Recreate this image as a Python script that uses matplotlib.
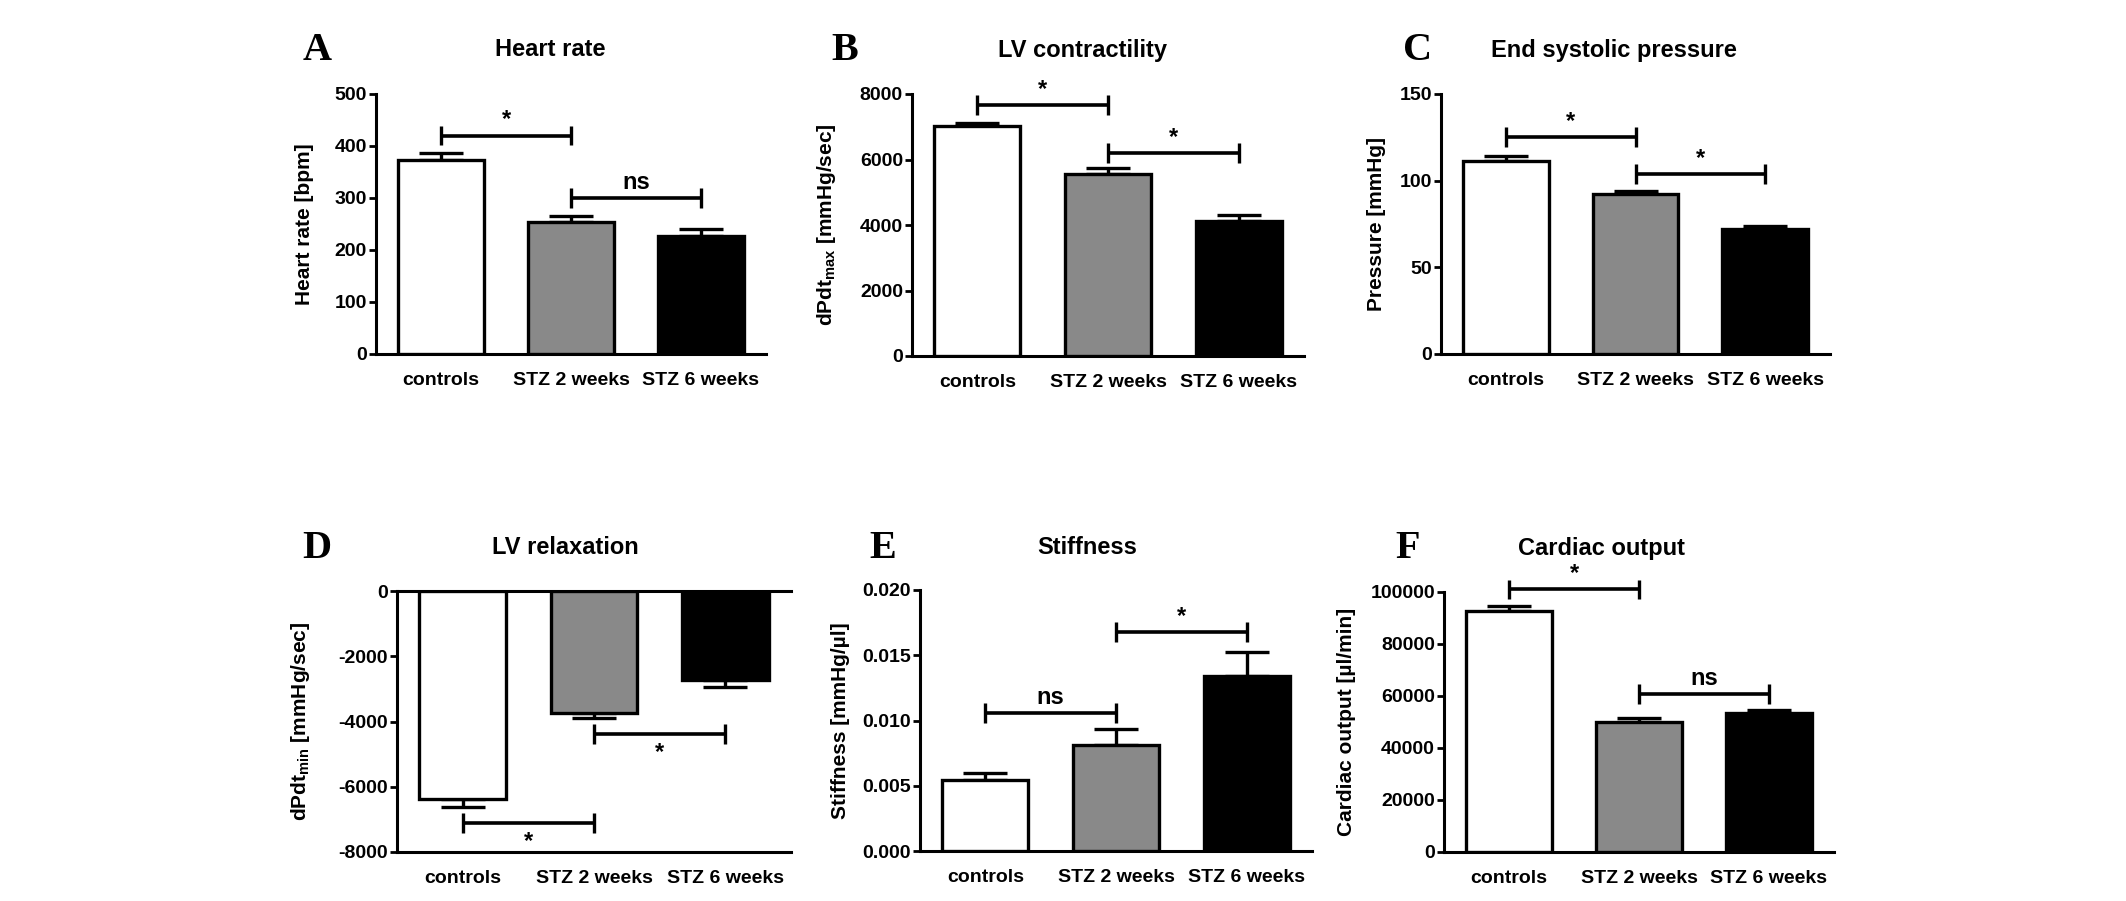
import matplotlib
matplotlib.use("Agg")
import matplotlib.pyplot as plt
from matplotlib.ticker import FixedLocator, FixedFormatter

plt.rcParams["mathtext.default"] = "regular"
plt.rcParams["axes.unicode_minus"] = False

SANS = ["Liberation Sans", "DejaVu Sans"]
SERIF = ["Liberation Serif", "DejaVu Serif"]

groups = ["controls", "STZ 2 weeks", "STZ 6 weeks"]
bar_colors = ["white", "#898989", "black"]

# values (mean and one-sided error)
hr_mean = [373, 254, 227]
hr_err = [13, 12, 13]
dpmax_mean = [7030, 5560, 4120]
dpmax_err = [90, 180, 190]
esp_mean = [111.3, 92.1, 72.3]
esp_err = [2.9, 1.9, 1.7]
dpmin_mean = [-6380, -3740, -2730]
dpmin_err = [240, 150, 210]
stiff_mean = [0.00544, 0.00812, 0.01341]
stiff_err = [0.00054, 0.00123, 0.00184]
co_mean = [92700, 50000, 53500]
co_err = [1900, 1500, 1100]

# significance brackets: (from group, to group, level, text)
hr_sig = [(0, 1, 420, "*"), (1, 2, 300, "ns")]
dpmax_sig = [(0, 1, 7660, "*"), (1, 2, 6200, "*")]
esp_sig = [(0, 1, 125, "*"), (1, 2, 104, "*")]
dpmin_sig = [(0, 1, -7110, "*"), (1, 2, -4380, "*")]
stiff_sig = [(0, 1, 0.0106, "ns"), (1, 2, 0.0168, "*")]
co_sig = [(0, 1, 101000, "*"), (1, 2, 60700, "ns")]

hr_ticks = [0, 100, 200, 300, 400, 500]
dpmax_ticks = [0, 2000, 4000, 6000, 8000]
esp_ticks = [0, 50, 100, 150]
dpmin_ticks = [0, -2000, -4000, -6000, -8000]
stiff_ticks = [0.0, 0.005, 0.010, 0.015, 0.020]
stiff_labels = ["0.000", "0.005", "0.010", "0.015", "0.020"]
co_ticks = [0, 20000, 40000, 60000, 80000, 100000]

W, H = 2126, 901
fig = plt.figure(figsize=(W / 100, H / 100), dpi=100)


def px_axes(l, r, t, b):
    return fig.add_axes([l / W, 1 - b / H, (r - l) / W, (b - t) / H])


panels = [
    dict(box=(376, 766, 94, 354), mean=hr_mean, err=hr_err, sig=hr_sig,
         ticks=hr_ticks, labels=None, ylim=(0, 500), title="Heart rate",
         ylabel="Heart rate [bpm]", letter="A", lx=317, tx=550, ty=50, ylx=304),
    dict(box=(912, 1304, 94, 356), mean=dpmax_mean, err=dpmax_err, sig=dpmax_sig,
         ticks=dpmax_ticks, labels=None, ylim=(0, 8000), title="LV contractility",
         ylabel="dPdt$_{max}$ [mmHg/sec]", letter="B", lx=845, tx=1082, ty=50, ylx=826),
    dict(box=(1441, 1830, 94, 354), mean=esp_mean, err=esp_err, sig=esp_sig,
         ticks=esp_ticks, labels=None, ylim=(0, 150), title="End systolic pressure",
         ylabel="Pressure [mmHg]", letter="C", lx=1418, tx=1614, ty=50, ylx=1377),
    dict(box=(397, 791, 591, 852), mean=dpmin_mean, err=dpmin_err, sig=dpmin_sig,
         ticks=dpmin_ticks, labels=None, ylim=(-8000, 0), title="LV relaxation",
         ylabel="dPdt$_{min}$ [mmHg/sec]", letter="D", lx=317, tx=565, ty=548, ylx=300),
    dict(box=(920, 1312, 590, 851), mean=stiff_mean, err=stiff_err, sig=stiff_sig,
         ticks=stiff_ticks, labels=stiff_labels, ylim=(0, 0.02), title="Stiffness",
         ylabel="Stiffness [mmHg/µl]", letter="E", lx=883, tx=1087, ty=548, ylx=840),
    dict(box=(1444, 1834, 592, 852), mean=co_mean, err=co_err, sig=co_sig,
         ticks=co_ticks, labels=None, ylim=(0, 100000), title="Cardiac output",
         ylabel="Cardiac output [µl/min]", letter="F", lx=1408, tx=1601, ty=548, ylx=1346),
]

x = [0, 1, 2]
for p in panels:
    ax = px_axes(*p["box"])
    lo, hi = p["ylim"]
    neg = hi <= 0
    ax.bar(x, p["mean"], width=0.66, color=bar_colors, edgecolor="black",
           linewidth=2.4, zorder=3)
    if neg:
        yerr = [p["err"], [0, 0, 0]]
    else:
        yerr = [[0, 0, 0], p["err"]]
    ax.errorbar(x, p["mean"], yerr=yerr, fmt="none", ecolor="black",
                elinewidth=2.4, capsize=16, capthick=2.4, zorder=2)

    ax.set_xlim(-0.5, 2.5)
    ax.set_ylim(lo, hi)
    for s in ["left", "bottom", "top", "right"]:
        ax.spines[s].set_linewidth(2.2)
    ax.spines["right"].set_visible(False)
    ax.spines["top"].set_visible(neg)

    ax.yaxis.set_major_locator(FixedLocator(p["ticks"]))
    if p["labels"] is not None:
        ax.yaxis.set_major_formatter(FixedFormatter(p["labels"]))
    ax.tick_params(axis="y", length=5, width=2, pad=1.5)
    ax.tick_params(axis="x", length=0, pad=13)
    ax.set_xticks(x)
    ax.set_xticklabels(groups, family=SANS, fontweight="bold", fontsize=14)
    for t in ax.get_yticklabels():
        t.set_family(SANS)
        t.set_fontweight("bold")
        t.set_fontsize(14)

    ax.set_ylabel(p["ylabel"], family=SANS, fontweight="bold", fontsize=15)
    ax.yaxis.label.set_va("center")
    l, r = p["box"][0], p["box"][1]
    ax.yaxis.set_label_coords((p["ylx"] - l) / (r - l), 0.5)

    # significance brackets
    d = 0.038 * (hi - lo)
    for i, j, level, txt in p["sig"]:
        ax.plot([i, j], [level, level], color="black", lw=2.6,
                clip_on=False, solid_capstyle="butt", zorder=4)
        ax.vlines([i, j], level - d, level + d, color="black", lw=2.4,
                  clip_on=False, zorder=4)
        if neg:
            ax.annotate(txt, ((i + j) / 2, level), xytext=(0, -5),
                        textcoords="offset points", ha="center", va="top",
                        fontsize=17, fontweight="bold", family=SANS,
                        annotation_clip=False)
        else:
            ax.annotate(txt, ((i + j) / 2, level), xytext=(0, 3),
                        textcoords="offset points", ha="center", va="bottom",
                        fontsize=17, fontweight="bold", family=SANS,
                        annotation_clip=False)

    fig.text(p["tx"] / W, 1 - p["ty"] / H, p["title"], ha="center", va="center",
             family=SANS, fontweight="bold", fontsize=17)
    fig.text(p["lx"] / W, 1 - p["ty"] / H, p["letter"], ha="center", va="center",
             family=SERIF, fontweight="bold", fontsize=29)

fig.savefig("out.png", dpi=100, facecolor="white")
